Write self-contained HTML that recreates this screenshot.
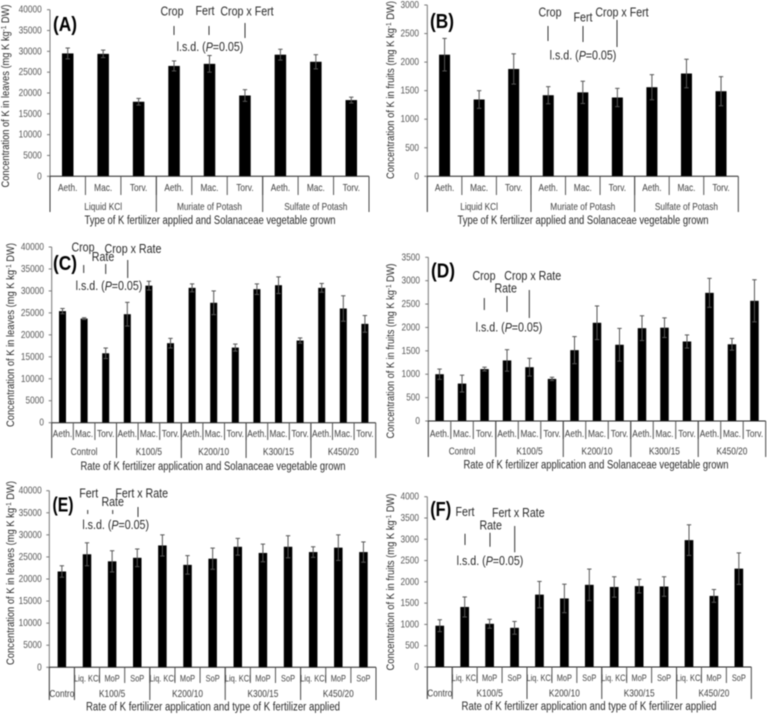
<!DOCTYPE html>
<html lang="en">
<head>
<meta charset="utf-8">
<title>Concentration of K in leaves and fruits</title>
<style>
html,body{margin:0;padding:0;background:#fff;width:767px;height:715px;overflow:hidden}
svg{display:block;filter:blur(0.5px)}
text{font-family:"Liberation Sans",sans-serif;dominant-baseline:central}
.note{font-size:13px;fill:#2a2a2a;text-anchor:middle}
.letter{font-size:20px;font-weight:bold;fill:#000;text-anchor:middle}
.mark{stroke:#333;stroke-width:1}
</style>
</head>
<body>
<svg id="figure" width="767" height="715" viewBox="0 0 767 715" xmlns="http://www.w3.org/2000/svg">
  <rect width="767" height="715" fill="#fff"/>
  <g id="charts"></g>

  <g>
    <text class="letter" x="65" y="25" textLength="24" lengthAdjust="spacingAndGlyphs">(A)</text>
    <text class="note narrow" x="172" y="11">Crop</text>
    <text class="note narrow" x="205" y="10.5">Fert</text>
    <text class="note narrow" x="247" y="11">Crop x Fert</text>
    <line class="mark" x1="174" x2="174" y1="26" y2="35"/>
    <line class="mark" x1="209" x2="209" y1="26" y2="35"/>
    <line class="mark" x1="245" x2="245" y1="23" y2="38"/>
    <text class="note narrow" x="210" y="46.7">l.s.d. (<tspan font-style="italic">P</tspan>=0.05)</text>
  </g>

  <g>
    <text class="letter" x="442" y="22" textLength="24" lengthAdjust="spacingAndGlyphs">(B)</text>
    <text class="note narrow" x="550" y="12">Crop</text>
    <text class="note narrow" x="583" y="17">Fert</text>
    <text class="note narrow" x="622" y="12">Crop x Fert</text>
    <line class="mark" x1="548" x2="548" y1="26" y2="41"/>
    <line class="mark" x1="583" x2="583" y1="26" y2="42"/>
    <line class="mark" x1="617" x2="617" y1="20" y2="47"/>
    <text class="note narrow" x="583" y="55">l.s.d. (<tspan font-style="italic">P</tspan>=0.05)</text>
  </g>

  <g>
    <text class="letter" x="65" y="264" textLength="24" lengthAdjust="spacingAndGlyphs">(C)</text>
    <text class="note narrow" x="83" y="247">Crop</text>
    <text class="note narrow" x="103" y="256.7">Rate</text>
    <text class="note narrow" x="133" y="248.7">Crop x Rate</text>
    <line class="mark" x1="83.7" x2="83.7" y1="265" y2="273"/>
    <line class="mark" x1="105.7" x2="105.7" y1="264" y2="274"/>
    <line class="mark" x1="127.7" x2="127.7" y1="260" y2="278"/>
    <text class="note narrow" x="109" y="285.7">l.s.d. (<tspan font-style="italic">P</tspan>=0.05)</text>
  </g>

  <g>
    <text class="letter" x="443" y="271.7" textLength="24" lengthAdjust="spacingAndGlyphs">(D)</text>
    <text class="note narrow" x="484" y="275.7">Crop</text>
    <text class="note narrow" x="505.7" y="288">Rate</text>
    <text class="note narrow" x="532.7" y="275.7">Crop x Rate</text>
    <line class="mark" x1="484.3" x2="484.3" y1="298" y2="310"/>
    <line class="mark" x1="507" x2="507" y1="296" y2="312"/>
    <line class="mark" x1="529.3" x2="529.3" y1="290" y2="318"/>
    <text class="note narrow" x="509" y="327">l.s.d. (<tspan font-style="italic">P</tspan>=0.05)</text>
  </g>

  <g>
    <text class="letter" x="63" y="505.7" textLength="21" lengthAdjust="spacingAndGlyphs">(E)</text>
    <text class="note narrow" x="88.7" y="493">Fert</text>
    <text class="note narrow" x="112.7" y="501.7">Rate</text>
    <text class="note narrow" x="141.7" y="493">Fert x Rate</text>
    <line class="mark" x1="87.7" x2="87.7" y1="510" y2="514"/>
    <line class="mark" x1="112.7" x2="112.7" y1="510" y2="514"/>
    <line class="mark" x1="138" x2="138" y1="507" y2="517"/>
    <text class="note narrow" x="115.7" y="524.3">l.s.d. (<tspan font-style="italic">P</tspan>=0.05)</text>
  </g>

  <g>
    <text class="letter" x="440.7" y="510" textLength="21" lengthAdjust="spacingAndGlyphs">(F)</text>
    <text class="note narrow" x="465" y="511.7">Fert</text>
    <text class="note narrow" x="490.7" y="525">Rate</text>
    <text class="note narrow" x="518.3" y="512.7">Fert x Rate</text>
    <line class="mark" x1="465" x2="465" y1="533.7" y2="545"/>
    <line class="mark" x1="490" x2="490" y1="532.7" y2="546.7"/>
    <line class="mark" x1="514.7" x2="514.7" y1="526" y2="552.3"/>
    <text class="note narrow" x="490" y="560.7">l.s.d. (<tspan font-style="italic">P</tspan>=0.05)</text>
  </g>
</svg>

<script>
// ---- Chart data ----
const cropCats3 = ["Aeth.","Mac.","Torv.","Aeth.","Mac.","Torv.","Aeth.","Mac.","Torv."];
const fertGroups = ["Liquid KCl","Muriate of Potash","Sulfate of Potash"];
const fertGroupSizes = [3,3,3];

const cropCats5 = ["Aeth.","Mac.","Torv.","Aeth.","Mac.","Torv.","Aeth.","Mac.","Torv.","Aeth.","Mac.","Torv.","Aeth.","Mac.","Torv."];
const rateGroups = ["Control","K100/5","K200/10","K300/15","K450/20"];
const rateGroupSizes = [3,3,3,3,3];

const fertCats = ["","Liq. KCl","MoP","SoP","Liq. KCl","MoP","SoP","Liq. KCl","MoP","SoP","Liq. KCl","MoP","SoP"];
const rateFertGroups = ["Contro","K100/5","K200/10","K300/15","K450/20"];
const rateFertGroupSizes = [1,3,3,3,3];

const ticks40k = [0,5000,10000,15000,20000,25000,30000,35000,40000];
const ticks3k = [0,500,1000,1500,2000,2500,3000];
const ticks3k5 = [0,500,1000,1500,2000,2500,3000,3500];
const ticks4k = [0,500,1000,1500,2000,2500,3000,3500,4000];

const valuesA = [29500,29400,17900,26500,27000,19400,29200,27500,18300];
const errorsA = [1300,900,800,1200,2000,1400,1300,1700,700];
const valuesB = [2130,1345,1880,1420,1470,1380,1560,1800,1490];
const errorsB = [285,155,265,150,195,160,220,250,255];
const valuesC = [25400,23700,15800,24700,31200,18100,30700,27300,17100,30400,31300,18700,30700,26000,22500];
const errorsC = [600,200,1200,2700,1000,1100,900,2700,800,1200,1900,600,1000,2900,1900];
const valuesD = [1000,800,1110,1295,1150,900,1515,2100,1630,1985,1995,1700,2740,1640,2570];
const errorsD = [110,180,40,230,190,35,290,360,350,265,210,140,310,125,450];
const valuesE = [21700,25600,24000,24800,27600,23200,24600,27300,25900,27300,26100,27100,26100];
const errorsE = [1300,2600,2400,2000,2400,2100,2400,1900,2000,2500,1200,2900,2300];
const valuesF = [970,1410,1015,920,1700,1610,1930,1880,1900,1890,2980,1670,2310];
const errorsF = [140,235,105,150,310,335,370,240,160,230,360,150,370];

const NS = "http://www.w3.org/2000/svg";
const root = document.getElementById("charts");
const NARROW = 0.79;

function make(parent, tag, props) {
  const node = document.createElementNS(NS, tag);
  for (const k in props) node.setAttribute(k, props[k]);
  parent.appendChild(node);
  return node;
}
function segment(parent, x1, y1, x2, y2, color, name) {
  const n = make(parent, "line", {x1, y1, x2, y2, stroke: color, "stroke-width": 1});
  
  
  return n;
}
function label(parent, x, y, str, size, anchor, color, name) {
  const t = make(parent, "text", {x, y, "font-size": size, "text-anchor": anchor, fill: color});
  t.textContent = str;
  
  
  t.setAttribute('textLength', (t.getComputedTextLength() * NARROW).toFixed(1));
  t.setAttribute('lengthAdjust', 'spacingAndGlyphs');
  return t;
}
function yTitle(parent, p) {
  const t = make(parent, "text", {
    transform: `translate(${p.yTitleX},${p.yTitleY}) rotate(-90)`,
    "font-size": 11, "text-anchor": "middle", fill: "#2a2a2a",
    textLength: p.yTitleLen, lengthAdjust: "spacingAndGlyphs"
  });
  
  
  t.appendChild(document.createTextNode(`Concentration of K in ${p.tissue} (mg K kg`));
  const sup = make(t, "tspan", {"font-size": 7.5, dy: -3});
  sup.textContent = "-1";
  const rest = make(t, "tspan", {dy: 3});
  rest.textContent = " DW)";
}

function drawPanel(p) {
  const g = make(root, "g", {});
  
  

  const n = p.values.length;
  const slot = (p.right - p.left) / n;
  const xAt = i => p.left + slot * (i + 0.5);
  const yAt = v => p.zeroY - (v / p.yMax) * (p.zeroY - p.topY);

  // bars and error bars
  p.values.forEach((v, i) => {
    const bar = make(g, "rect", {x: xAt(i) - p.barW / 2, y: yAt(v), width: p.barW, height: p.zeroY - yAt(v), fill: "#000"});
    
    
    const hi = yAt(v + p.errors[i]), lo = yAt(v - p.errors[i]);
    const c = "#555";
    segment(g, xAt(i), hi, xAt(i), lo, c, 'error-bar');
    segment(g, xAt(i) - 2.2, hi, xAt(i) + 2.2, hi, c, 'error-cap-upper');
    segment(g, xAt(i) - 2.2, lo, xAt(i) + 2.2, lo, c, 'error-cap-lower');
  });

  // y axis
  const axisColor = "#555";
  segment(g, p.left, p.topY, p.left, p.zeroY, "#777", 'y-axis');
  p.ticks.forEach(t => {
    segment(g, p.left - 3, yAt(t), p.left, yAt(t), "#777", 'y-tick');
    label(g, p.tickRight, yAt(t), String(t), 10.5, "end", "#595959", 'y-tick-label');
  });

  // x axis
  segment(g, p.left, p.zeroY, p.right, p.zeroY, "#222", 'x-axis');
  p.cats.forEach((c, i) => {
    if (c) label(g, xAt(i), p.catY, c, p.catSize, "middle", "#404040", 'category-label');
    if (i > 0) segment(g, p.left + slot * i, p.zeroY, p.left + slot * i, p.catBottom, axisColor, 'category-separator');
  });
  let start = 0;
  segment(g, p.left, p.zeroY, p.left, p.groupBottom, "#333", 'group-separator');
  p.groups.forEach((name, gi) => {
    const size = p.groupSizes[gi];
    const mid = p.left + slot * (start + size / 2);
    label(g, mid, p.groupY, name, 10.5, "middle", "#404040", 'group-label');
    start += size;
    const x = p.left + slot * start;
    segment(g, x, p.zeroY, x, p.groupBottom, "#444", 'group-separator');
  });

  // titles
  yTitle(g, p);
  const xt = make(g, "text", {
    x: p.xTitleX, y: p.xTitleY, "font-size": 11.5, "text-anchor": "middle", fill: "#2a2a2a",
    textLength: p.xTitleLen, lengthAdjust: "spacingAndGlyphs"
  });
  xt.textContent = p.xTitle;
  
  
}

drawPanel({name:"chart-a", tissue:"leaves", values:valuesA, errors:errorsA, cats:cropCats3, groups:fertGroups, groupSizes:fertGroupSizes, ticks:ticks40k, yMax:40000,
  left:50, right:369, topY:9.7, zeroY:176.3, barW:11.5, tickRight:41.7, catY:188, catBottom:195, catSize:10.5, groupY:207, groupBottom:212,
  xTitle:"Type of K fertilizer applied and Solanaceae vegetable grown", xTitleX:210, xTitleY:221, xTitleLen:251, yTitleX:6, yTitleY:96, yTitleLen:183});
drawPanel({name:"chart-b", tissue:"fruits", values:valuesB, errors:errorsB, cats:cropCats3, groups:fertGroups, groupSizes:fertGroupSizes, ticks:ticks3k, yMax:3000,
  left:427.3, right:738.3, topY:5, zeroY:176.3, barW:11, tickRight:419, catY:188, catBottom:195, catSize:10.5, groupY:207, groupBottom:212,
  xTitle:"Type of K fertilizer applied and Solanaceae vegetable grown", xTitleX:583, xTitleY:221, xTitleLen:251, yTitleX:391, yTitleY:90, yTitleLen:178});
drawPanel({name:"chart-c", tissue:"leaves", values:valuesC, errors:errorsC, cats:cropCats5, groups:rateGroups, groupSizes:rateGroupSizes, ticks:ticks40k, yMax:40000,
  left:51.7, right:375.7, topY:247, zeroY:422.7, barW:7, tickRight:44, catY:434, catBottom:440, catSize:10.5, groupY:452, groupBottom:458,
  xTitle:"Rate of K fertilizer application and Solanaceae vegetable grown", xTitleX:213, xTitleY:467, xTitleLen:265, yTitleX:11, yTitleY:335, yTitleLen:184});
drawPanel({name:"chart-d", tissue:"fruits", values:valuesD, errors:errorsD, cats:cropCats5, groups:rateGroups, groupSizes:rateGroupSizes, ticks:ticks3k5, yMax:3500,
  left:428.3, right:765.7, topY:257.3, zeroY:421, barW:8.5, tickRight:420, catY:434, catBottom:439, catSize:10.5, groupY:451.7, groupBottom:457,
  xTitle:"Rate of K fertilizer application and Solanaceae vegetable grown", xTitleX:596, xTitleY:465.7, xTitleLen:265, yTitleX:391, yTitleY:351, yTitleLen:175});
drawPanel({name:"chart-e", tissue:"leaves", values:valuesE, errors:errorsE, cats:fertCats, groups:rateFertGroups, groupSizes:rateFertGroupSizes, ticks:ticks40k, yMax:40000,
  left:49.3, right:376, topY:490.7, zeroY:667.3, barW:8.5, tickRight:41.7, catY:678, catBottom:683, catSize:9.4, groupY:694, groupBottom:700,
  xTitle:"Rate of K fertilizer application and type of K fertilizer applied", xTitleX:213, xTitleY:707.7, xTitleLen:254, yTitleX:11, yTitleY:573, yTitleLen:184});
drawPanel({name:"chart-f", tissue:"fruits", values:valuesF, errors:errorsF, cats:fertCats, groups:rateFertGroups, groupSizes:rateFertGroupSizes, ticks:ticks4k, yMax:4000,
  left:427.3, right:751.3, topY:496.7, zeroY:667, barW:8.7, tickRight:419, catY:677.7, catBottom:683, catSize:9.4, groupY:693.7, groupBottom:699,
  xTitle:"Rate of K fertilizer application and type of K fertilizer applied", xTitleX:589, xTitleY:707, xTitleLen:255, yTitleX:391, yTitleY:582, yTitleLen:177});

// annotation text uses the same narrower proportions as the chart labels
document.querySelectorAll("text.narrow").forEach(t => {
  t.setAttribute('textLength', (t.getComputedTextLength() * 0.82).toFixed(1));
  t.setAttribute('lengthAdjust', 'spacingAndGlyphs');
});
</script>
</body>
</html>
